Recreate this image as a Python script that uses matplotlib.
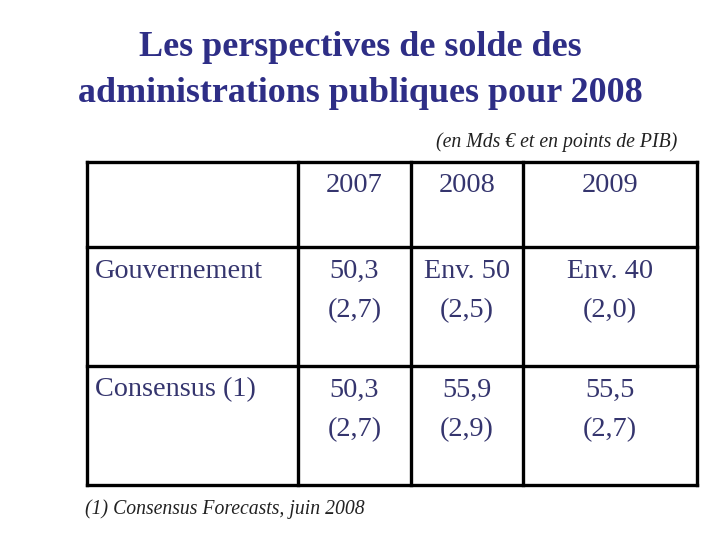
import matplotlib
matplotlib.use("Agg")
import matplotlib.pyplot as plt

title_lines = ["Les perspectives de solde des", "administrations publiques pour 2008"]
subtitle = "(en Mds € et en points de PIB)"
years = ["2007", "2008", "2009"]
row_labels = ["Gouvernement", "Consensus (1)"]
values = [["50,3", "Env. 50", "Env. 40"],
          ["50,3", "55,9", "55,5"]]
pib_shares = [["(2,7)", "(2,5)", "(2,0)"],
              ["(2,7)", "(2,9)", "(2,7)"]]
footnote = "(1) Consensus Forecasts, juin 2008"

title_color = "#2e2e86"
text_color = "#35356e"
serif = ["Liberation Serif", "DejaVu Serif"]

fig = plt.figure(figsize=(7.2, 5.4), dpi=100)
ax = fig.add_axes([0, 0, 1, 1])
ax.set_xlim(0, 720)
ax.set_ylim(540, 0)
ax.axis("off")

# title
ax.text(360, 48, title_lines[0], ha="center", va="center", fontsize=25.9,
        fontweight="bold", color=title_color, family=serif)
ax.text(360, 93, title_lines[1], ha="center", va="center", fontsize=25.9,
        fontweight="bold", color=title_color, family=serif)
ax.text(677, 142, subtitle, ha="right", va="center", fontsize=14.2,
        style="italic", color="#222222", family=serif)

# table grid
xs = [87, 298, 411, 523, 697]
ys = [162, 247, 366, 485]
lw = 2.4
for x in xs:
    ax.plot([x, x], [ys[0], ys[-1]], color="black", lw=lw, solid_capstyle="projecting")
for y in ys:
    ax.plot([xs[0], xs[-1]], [y, y], color="black", lw=lw, solid_capstyle="projecting")

centers = [(xs[i] + xs[i + 1]) / 2 for i in range(1, 4)]
fs = 20.3
for c, yr in zip(centers, years):
    ax.text(c, 186, yr, ha="center", va="center", fontsize=fs, color=text_color, family=serif)

row_tops = [271, 390]
for r, lab in enumerate(row_labels):
    y0 = row_tops[r]
    ax.text(95, y0, lab, ha="left", va="center", fontsize=fs, color=text_color, family=serif)
    for c, v, p in zip(centers, values[r], pib_shares[r]):
        ax.text(c, y0, v, ha="center", va="center", fontsize=fs, color=text_color, family=serif)
        ax.text(c, y0 + 40, p, ha="center", va="center", fontsize=fs, color=text_color, family=serif)

ax.text(85, 509, footnote, ha="left", va="center", fontsize=14.2,
        style="italic", color="#222222", family=serif)

fig.savefig("out.png", dpi=100)
